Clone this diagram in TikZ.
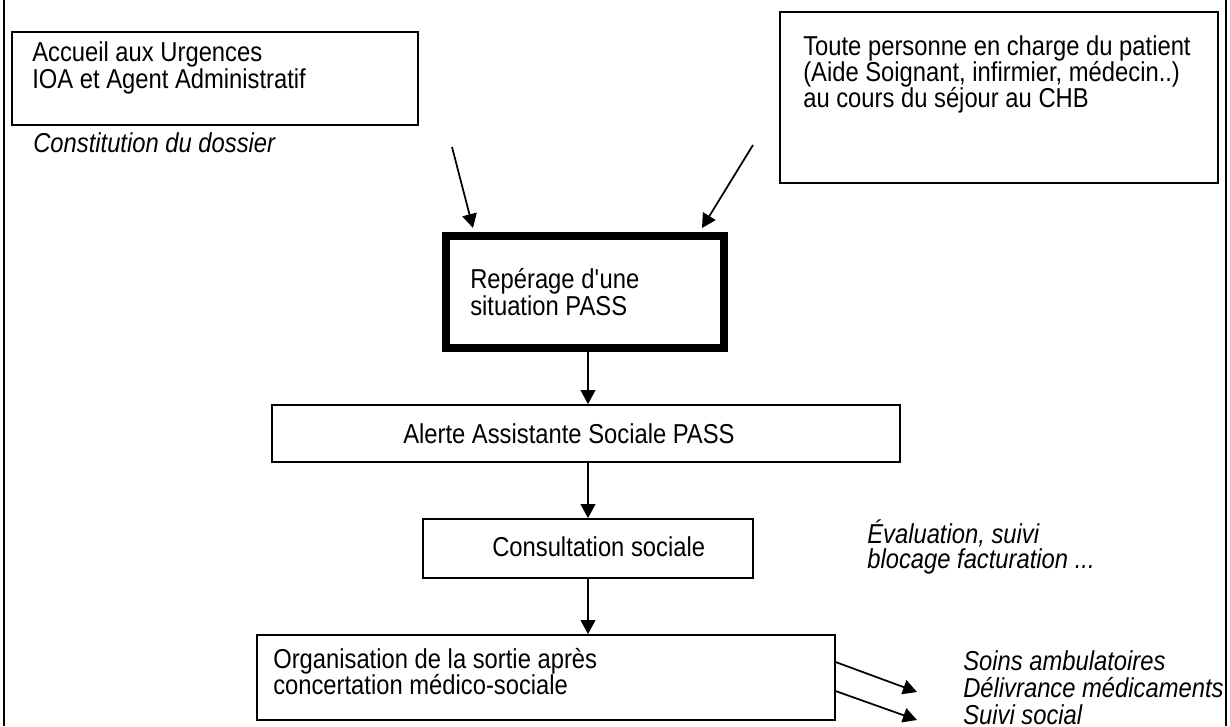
\documentclass[tikz,border=0pt]{standalone}
\usepackage{fontspec}
\setmainfont{Liberation Sans}[FakeStretch=0.87]
\usetikzlibrary{arrows.meta,fit,calc}
\begin{document}
\begin{tikzpicture}[x=0.75pt,y=-0.75pt,
  box/.style={draw, line width=1.3pt, inner sep=0pt},
  thickbox/.style={draw, line width=6pt, inner sep=0pt},
  arr/.style={line width=1.3pt, -{Triangle[length=10.5pt,width=11pt]}},
  txt/.style={anchor=base west, inner sep=0pt, font=\fontsize{20.5}{20}\selectfont},
  itxt/.style={anchor=base west, inner sep=0pt, font=\fontsize{20.5}{20}\selectfont\itshape},
  pageline/.style={line width=1.6pt}]
\useasboundingbox (0,0) rectangle (1230,726);
% page side lines
\draw[pageline] (4,0) -- (4,726);
\draw[pageline] (1226,0) -- (1226,726);
% boxes
\node[box, fit={(12,32) (418,125)}] (acc) {};
\node[box, fit={(780,12) (1218,183)}] (toute) {};
\node[thickbox, fit={(446,236) (724,348)}] (rep) {};
\node[box, fit={(272,405) (900,462)}] (alerte) {};
\node[box, fit={(423,519) (753,578)}] (consult) {};
\node[box, fit={(257,635) (835,720)}] (org) {};
% texts
\node[txt] (acc1) at (32,61) {Accueil aux Urgences};
\node[txt] (acc2) at (32,88) {IOA et Agent Administratif};
\node[itxt] (const) at (33,152) {Constitution du dossier};
\node[txt] (tp1) at (803,55) {Toute personne en charge du patient};
\node[txt] (tp2) at (803,81) {(Aide Soignant, infirmier, médecin..)};
\node[txt] (tp3) at (803,107) {au cours du séjour au CHB};
\node[txt] (rep1) at (470,288) {Repérage d\textquotesingle une};
\node[txt] (rep2) at (470,315) {situation PASS};
\node[txt] (alt) at (403,443) {Alerte Assistante Sociale PASS};
\node[txt] (cons) at (492,556) {Consultation sociale};
\node[itxt] (ev1) at (867,543) {Évaluation, suivi};
\node[itxt] (ev2) at (867,568) {blocage facturation ...};
\node[txt] (org1) at (273,668) {Organisation de la sortie après};
\node[txt] (org2) at (273,694) {concertation médico-sociale};
\node[itxt] (out1) at (963,670) {Soins ambulatoires};
\node[itxt] (out2) at (963,697) {Délivrance médicaments};
\node[itxt] (out3) at (963,724) {Suivi social};
% connector coordinates
\coordinate (s1) at (452,147);
\coordinate (s2) at (753,145);
\coordinate (ax) at (588,0);
\coordinate (e1) at (917,692);
\coordinate (e2) at (917,720);
% connectors
\draw[arr] (s1) -- ($(rep.north west)+(31,-4)$);
\draw[arr] (s2) -- ($(rep.north east)+(-26,-4)$);
\draw[arr] (rep.south -| ax) -- (alerte.north -| ax);
\draw[arr] (alerte.south -| ax) -- (consult.north -| ax);
\draw[arr] (consult.south -| ax) -- (org.north -| ax);
\draw[arr] ($(org.north east)+(0,28)$) -- (e1);
\draw[arr] ($(org.north east)+(0,57)$) -- (e2);
\end{tikzpicture}
\end{document}
